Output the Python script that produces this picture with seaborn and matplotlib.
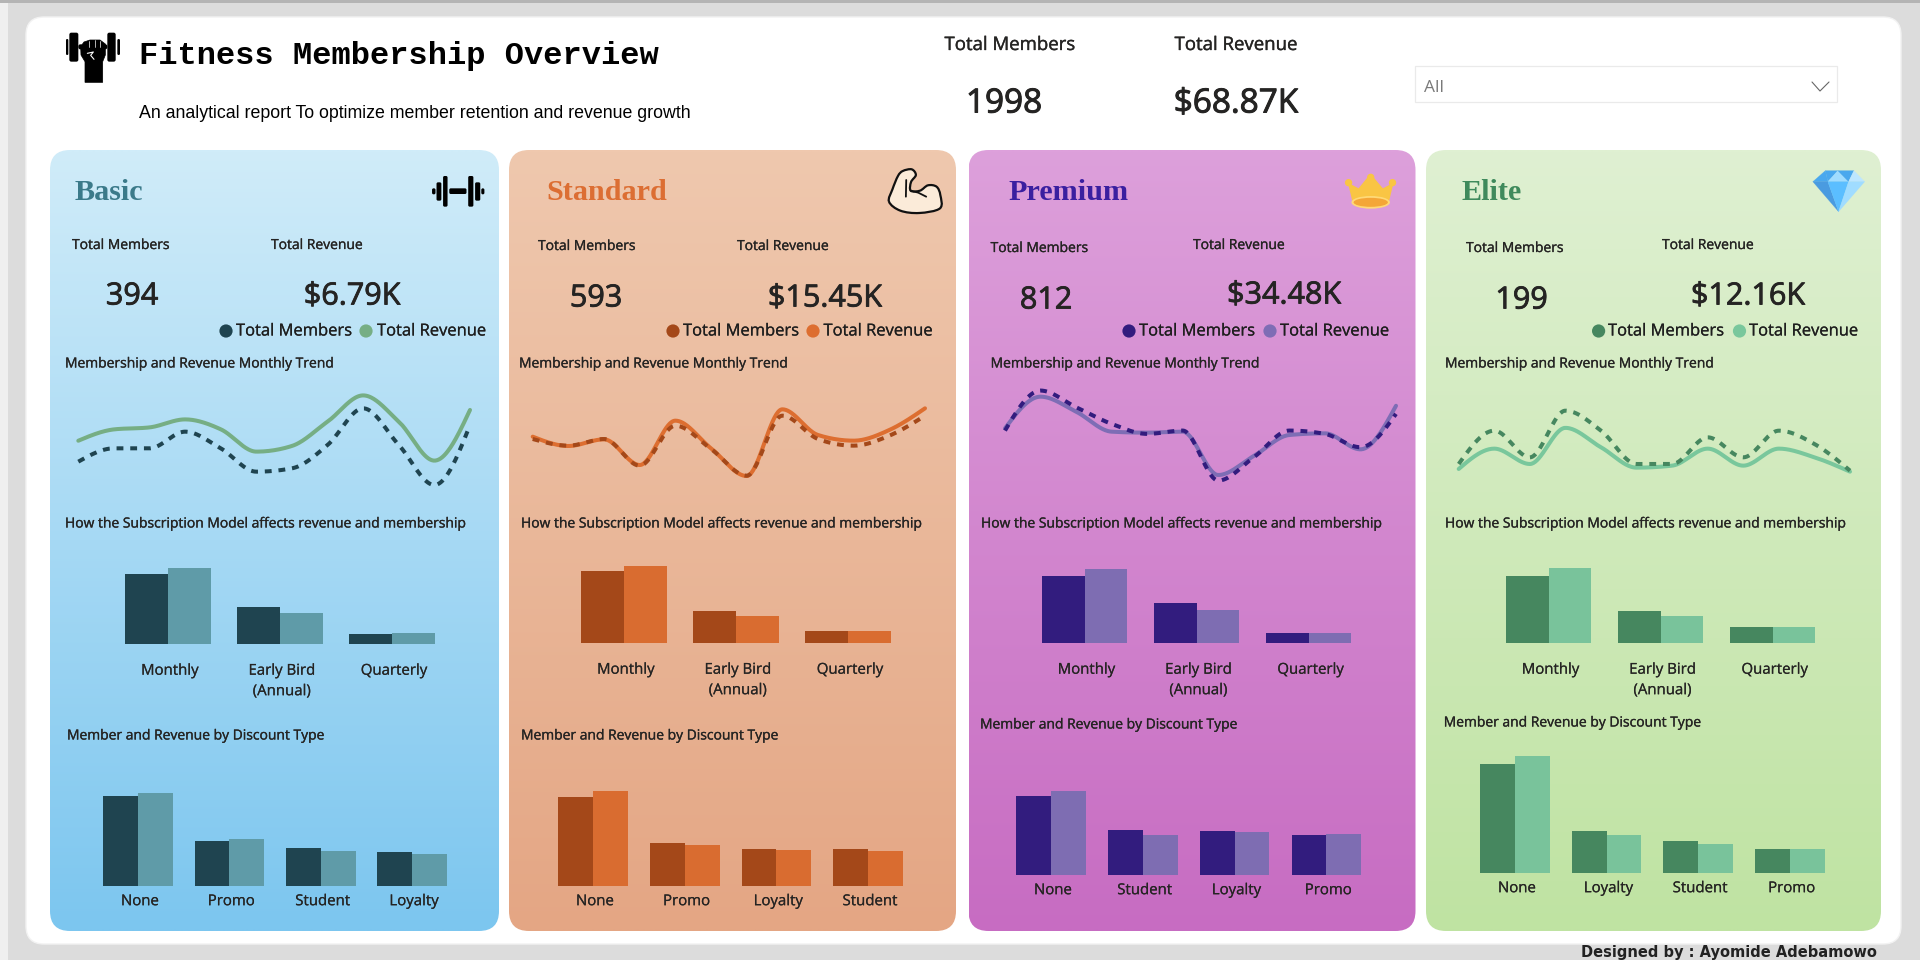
import numpy as np
import pandas as pd
import matplotlib
matplotlib.use("Agg")
import matplotlib.pyplot as plt
import matplotlib.patheffects as pe
from matplotlib.patches import FancyBboxPatch, Polygon, Rectangle, Circle, Ellipse, PathPatch
from matplotlib.path import Path
from matplotlib.transforms import ScaledTranslation
import seaborn as sns

# ---- values ------------------------------------------------------------
plan_names = ["Basic", "Standard", "Premium", "Elite"]
plan_members = ["394", "593", "812", "199"]
plan_revenue = ["$6.79K", "$15.45K", "$34.48K", "$12.16K"]
overall_members = "1998"
overall_revenue = "$68.87K"

months = list(range(12))
basic_trend_members = [29, 33, 33, 38, 33, 26, 27, 34, 45, 34, 22, 40]
basic_trend_revenue = [464, 566, 584, 656, 567, 366, 417, 636, 872, 636, 285, 741]
standard_trend_members = [50, 48, 50, 42, 54, 47, 39, 57, 50, 48, 51, 57]
standard_trend_revenue = [1299, 1215, 1275, 1044, 1443, 1194, 945, 1545, 1314, 1263, 1359, 1554]
premium_trend_members = [68, 80, 75, 70, 67, 68, 53, 60, 68, 67, 63, 73]
premium_trend_revenue = [2944, 3514, 3244, 2884, 2866, 2884, 2104, 2446, 2824, 2854, 2566, 3350]
elite_trend_members = [14, 19, 15, 22, 19, 14, 14, 18, 15, 19, 17, 13]
elite_trend_revenue = [904, 1087, 949, 1274, 1099, 916, 934, 1087, 934, 1087, 1009, 880]

subscription_types = ["Monthly", "Early Bird\n(Annual)", "Quarterly"]
basic_sub_members = [235, 125, 34]
basic_sub_revenue = [4404, 1785, 601]
standard_sub_members = [366, 165, 62]
standard_sub_revenue = [10315, 3572, 1563]
premium_sub_members = [468, 278, 66]
premium_sub_revenue = [21960, 9738, 2782]
elite_sub_members = [116, 55, 28]
elite_sub_revenue = [7792, 2760, 1608]

basic_discounts = ["None", "Promo", "Student", "Loyalty"]
basic_disc_members = [172, 85, 72, 65]
basic_disc_revenue = [3069, 1535, 1137, 1049]
standard_discounts = ["None", "Promo", "Loyalty", "Student"]
standard_disc_members = [256, 123, 107, 107]
standard_disc_revenue = [7121, 3045, 2692, 2592]
premium_discounts = ["None", "Student", "Loyalty", "Promo"]
premium_disc_members = [308, 176, 172, 156]
premium_disc_revenue = [13959, 6618, 7118, 6785]
elite_discounts = ["None", "Loyalty", "Student", "Promo"]
elite_disc_members = [105, 40, 31, 23]
elite_disc_revenue = [6865, 2197, 1706, 1392]

MEMBERS = "Total Members"
REVENUE = "Total Revenue"

# ---- layout and styling, in pixels on a 1920x960 canvas ----------------
panels = [
    dict(box=(50, 150, 499, 931), grad=("#D0ECF9", "#7CC6EF"), head="#3B7A8A",
         c_members="#1F4450", c_rev_bar="#5F9BA8", c_rev_line="#76AE84",
         head_x=75, tm=(72, 245), tr=(271, 245), vm=(132, 294), vr=(352, 294),
         leg=(226, 236, 366, 377), trend_title=65, sub_title=65, disc_title=(67, 735),
         trend_span=(78.3, 470), trend_m_lim=(17.5, 56.5), trend_r_lim=(-69.4, 1100.6),
         sub=(168, 112, 643.7, 69.3, 75.7), disc=(138, 91.4, 885.7, 89.7, 92.7),
         sub_pad=20, disc_pad=8.5),
    dict(box=(509, 150, 956, 931), grad=("#EFC8AE", "#E4A684"), head="#DC6E33",
         c_members="#A44819", c_rev_bar="#D96C30", c_rev_line="#DD6E30",
         head_x=546, tm=(538, 246), tr=(737, 246), vm=(596, 296), vr=(825, 296),
         leg=(673, 683, 813, 823.5), trend_title=519, sub_title=521, disc_title=(521, 735),
         trend_span=(532.7, 925), trend_m_lim=(31.7, 70.7), trend_r_lim=(729, 1899),
         sub=(624, 112, 642.7, 71.3, 77), disc=(593, 91.7, 885.7, 88.3, 94.3),
         sub_pad=20, disc_pad=8.5),
    dict(box=(968.5, 150, 1415.5, 931), grad=("#DDA0DB", "#C76CC2"), head="#3A1FA0",
         c_members="#321C7E", c_rev_bar="#7E6DB2", c_rev_line="#7E6DB5",
         head_x=1008, tm=(990.6, 248), tr=(1193, 245), vm=(1046, 298), vr=(1284, 293),
         leg=(1129, 1139, 1270, 1280), trend_title=990.6, sub_title=981, disc_title=(980, 724),
         trend_span=(1005, 1396), trend_m_lim=(47.17, 86.17), trend_r_lim=(1654, 3994),
         sub=(1084.6, 112, 642.7, 66.7, 73.7), disc=(1051, 91.8, 874.7, 78.3, 83.7),
         sub_pad=20, disc_pad=8.5),
    dict(box=(1426, 150, 1881, 931), grad=("#DFF0D2", "#BFE3A2"), head="#3F8A5C",
         c_members="#46875F", c_rev_bar="#79C39B", c_rev_line="#79C79C",
         head_x=1461, tm=(1466, 248), tr=(1662, 245), vm=(1521.5, 298), vr=(1748, 294),
         leg=(1598.6, 1608, 1739.5, 1749), trend_title=1445, sub_title=1445, disc_title=(1443.7, 722),
         trend_span=(1458.7, 1850), trend_m_lim=(8.6, 28.1), trend_r_lim=(624.8, 1794.8),
         sub=(1548.7, 112, 642.7, 67, 74.3), disc=(1515, 91.6, 872.7, 108.7, 116.7),
         sub_pad=20, disc_pad=8.5),
]

trend_members = [basic_trend_members, standard_trend_members, premium_trend_members, elite_trend_members]
trend_revenue = [basic_trend_revenue, standard_trend_revenue, premium_trend_revenue, elite_trend_revenue]
sub_members = [basic_sub_members, standard_sub_members, premium_sub_members, elite_sub_members]
sub_revenue = [basic_sub_revenue, standard_sub_revenue, premium_sub_revenue, elite_sub_revenue]
disc_names = [basic_discounts, standard_discounts, premium_discounts, elite_discounts]
disc_members = [basic_disc_members, standard_disc_members, premium_disc_members, elite_disc_members]
disc_revenue = [basic_disc_revenue, standard_disc_revenue, premium_disc_revenue, elite_disc_revenue]

W, H = 1920, 960
BODY = "Open Sans"
INK = "#252423"

sns.set_theme(style="white")
plt.rcParams["font.family"] = [BODY, "DejaVu Sans"]

fig = plt.figure(figsize=(W / 100, H / 100), dpi=100, facecolor="#DCDCDC")
base = fig.add_axes([0, 0, 1, 1], zorder=0)
base.set_axis_off()


def px_axes(x0, y0, x1, y1, zorder=3):
    """Axes covering a pixel rectangle given with y measured from the top."""
    ax = fig.add_axes([x0 / W, 1 - y1 / H, (x1 - x0) / W, (y1 - y0) / H], zorder=zorder)
    ax.patch.set_alpha(0)
    return ax


def label(x, y, s, size, color=INK, ha="left", va="center", heavy=0.0, **kw):
    t = base.text(x, y, s, fontsize=size, color=color, ha=ha, va=va, **kw)
    if heavy:
        t.set_path_effects([pe.withStroke(linewidth=heavy, foreground=color)])
    return t


def monotone_curve(values, per_step=40):
    """Monotone cubic through the monthly values, as a smoothed line is drawn."""
    y = np.asarray(values, float)
    d = np.diff(y)
    m = np.zeros_like(y)
    for i in range(1, len(y) - 1):
        p = (d[i - 1] + d[i]) / 2
        m[i] = (np.sign(d[i - 1]) + np.sign(d[i])) * min(abs(d[i - 1]), abs(d[i]), 0.5 * abs(p))
    m[0] = (3 * d[0] - m[1]) / 2
    m[-1] = (3 * d[-1] - m[-2]) / 2
    t = np.linspace(0, len(y) - 1, (len(y) - 1) * per_step + 1)
    i = np.minimum(t.astype(int), len(y) - 2)
    u = t - i
    curve = ((2 * u**3 - 3 * u**2 + 1) * y[i] + (u**3 - 2 * u**2 + u) * m[i]
             + (-2 * u**3 + 3 * u**2) * y[i + 1] + (u**3 - u**2) * m[i + 1])
    return t, curve


def draw_trend(p, members, revenue):
    x0, x1 = p["trend_span"]
    ax = px_axes(x0, 370, x1, 500)
    t, c = monotone_curve(revenue)
    sns.lineplot(x=t, y=c, ax=ax, color=p["c_rev_line"], linewidth=2.9,
                 estimator=None, sort=False, solid_capstyle="round", clip_on=False)
    ax.set_ylim(*p["trend_r_lim"])
    ax.set_xlim(0, 11)
    ax.set_axis_off()
    tw = ax.twinx()
    tw.patch.set_alpha(0)
    t, c = monotone_curve(members)
    sns.lineplot(x=t, y=c, ax=tw, color=p["c_members"], linewidth=2.9, clip_on=False,
                 estimator=None, sort=False, linestyle=(0, (1.7, 1.7)), dash_capstyle="butt")
    tw.set_ylim(*p["trend_m_lim"])
    tw.set_xlim(0, 11)
    tw.set_axis_off()


def draw_bars(p, cats, members, revenue, geom, pad):
    first, step, baseline, peak_m, peak_r = geom
    n = len(cats)
    height = 125.0
    ax = px_axes(first - step / 2, baseline - height, first - step / 2 + step * n, baseline)
    palette = {MEMBERS: p["c_members"], REVENUE: p["c_rev_bar"]}
    hues = [MEMBERS, REVENUE]
    df_m = pd.DataFrame({"type": cats, "value": members, "measure": MEMBERS})
    df_r = pd.DataFrame({"type": cats, "value": revenue, "measure": REVENUE})
    sns.barplot(data=df_m, x="type", y="value", hue="measure", hue_order=hues, order=cats, dodge=True,
                palette=palette, width=0.76, saturation=1, linewidth=0, legend=False, ax=ax)
    tw = ax.twinx()
    tw.patch.set_alpha(0)
    sns.barplot(data=df_r, x="type", y="value", hue="measure", hue_order=hues, order=cats, dodge=True,
                palette=palette, width=0.76, saturation=1, linewidth=0, legend=False, ax=tw)
    ax.set_ylim(0, max(members) * height / peak_m)
    tw.set_ylim(0, max(revenue) * height / peak_r)
    ax.set_xlim(-0.5, n - 0.5)
    tw.set_axis_off()
    ax.set_xlabel("")
    ax.set_ylabel("")
    ax.set_yticks([])
    sns.despine(ax=ax, left=True, bottom=True)
    ax.tick_params(axis="x", length=0, pad=pad * 72 / 100, labelsize=10.8, labelcolor=INK)
    shift = ScaledTranslation(2 / 100, 0, fig.dpi_scale_trans)
    for tick in ax.get_xticklabels():
        tick.set_transform(tick.get_transform() + shift)
        tick.set_linespacing(1.5)
        tick.set_path_effects([pe.withStroke(linewidth=0.12, foreground=INK)])


def rounded(x0, y0, x1, y1, r, **kw):
    return FancyBboxPatch((x0 + r, y0 + r), x1 - x0 - 2 * r, y1 - y0 - 2 * r,
                          boxstyle=f"round,pad={r},rounding_size={r}", mutation_aspect=1, **kw)


# ---- page background ---------------------------------------------------
base.set_xlim(0, W)
base.set_ylim(H, 0)
base.add_patch(Rectangle((0, 0), 8, H, color="#EFEFEF", lw=0))
base.add_patch(Rectangle((0, 0), W, 3, color="#B4B4B4", lw=0))
base.add_patch(rounded(26, 17, 1901, 944, 18, fc="white", ec="#F2F2F2", lw=1))


# ---- icons, each placed from its own small coordinate frame -------------
def frame(ox, oy, sx=3.0, sy=3.0):
    return lambda pts: [(ox + a / sx, oy + b / sy) for a, b in pts]


def rbar(f, a0, b0, a1, b1, color="black", r=1.5):
    (x0, y0), (x1, y1) = f([(a0, b0), (a1, b1)])
    rr = min(r, (x1 - x0) / 2 - 0.01, (y1 - y0) / 2 - 0.01)
    base.add_patch(rounded(x0, y0, x1, y1, rr, fc=color, ec="none", zorder=2))


def smooth_closed(pts):
    """Closed Catmull-Rom outline through the given points."""
    P = np.asarray(pts, float)
    n = len(P)
    verts, codes = [P[0]], [Path.MOVETO]
    for i in range(n):
        p0, p1, p2, p3 = P[i - 1], P[i], P[(i + 1) % n], P[(i + 2) % n]
        verts += [p1 + (p2 - p0) / 6, p2 - (p3 - p1) / 6, p2]
        codes += [Path.CURVE4] * 3
    return Path(verts, codes)


# fist gripping a dumbbell beside the heading
f = frame(50, 20)
for a0, b0, a1, b1 in [(48, 57, 55, 105), (58, 38, 85, 125), (172, 38, 197, 125), (202, 57, 210, 105),
                       (85, 73, 100, 88), (160, 73, 172, 88)]:
    rbar(f, a0, b0, a1, b1, r=2)
base.add_patch(Polygon(f([(92, 80), (102, 66), (120, 60), (150, 60), (166, 72), (166, 105), (158, 125),
                          (158, 187), (105, 187), (105, 125), (93, 105)]), fc="black", ec="black", lw=0.5, zorder=2))
for a, b0, b1 in [(118, 62, 82), (134, 60, 82), (150, 62, 82)]:
    base.plot(*zip(*f([(a, b0), (a, b1)])), color="white", lw=0.5, zorder=3)
base.plot(*zip(*f([(112, 100), (130, 96), (122, 106), (132, 118)])), color="white", lw=0.8, zorder=3)

# ---- the four plan cards -----------------------------------------------
for i, p in enumerate(panels):
    x0, y0, x1, y1 = p["box"]
    grad = np.linspace(0, 1, 256)[:, None, None]
    c0 = np.array(matplotlib.colors.to_rgb(p["grad"][0]))
    c1 = np.array(matplotlib.colors.to_rgb(p["grad"][1]))
    img = base.imshow(c0 + (c1 - c0) * grad, extent=(x0, x1, y1, y0), aspect="auto", zorder=1, interpolation="bilinear")
    clip = rounded(x0, y0, x1, y1, 20, fc="none", ec="none", transform=base.transData)
    base.add_patch(clip)
    img.set_clip_path(clip)

    label(p["head_x"], 192, plan_names[i], 21.7, color=p["head"],
          family=["Liberation Serif", "DejaVu Serif"], weight="bold")
    label(p["tm"][0], p["tm"][1] + 0.5, MEMBERS, 10, heavy=0.2)
    label(p["tr"][0], p["tr"][1] + 0.5, REVENUE, 10, heavy=0.2)
    label(p["vm"][0], p["vm"][1] + 2.5, plan_members[i], 22, ha="center", heavy=0.6)
    label(p["vr"][0], p["vr"][1] + 2.5, plan_revenue[i], 22, ha="center", heavy=0.6)

    dm, tm, dr, tr = p["leg"]
    base.add_patch(Circle((dm, 331), 6.6, fc=p["c_members"], ec="none", zorder=2))
    base.add_patch(Circle((dr, 331), 6.6, fc=p["c_rev_line"], ec="none", zorder=2))
    label(tm, 331.5, MEMBERS, 11.9, color="#1E1E1E", heavy=0.15)
    label(tr, 331.5, REVENUE, 11.9, color="#1E1E1E", heavy=0.15)

    label(p["trend_title"], 364, "Membership and Revenue Monthly Trend", 10, heavy=0.2)
    label(p["sub_title"], 524, "How the Subscription Model affects revenue and membership", 10, heavy=0.2)
    label(p["disc_title"][0], p["disc_title"][1] + 1, "Member and Revenue by Discount Type", 10, heavy=0.2)

    draw_trend(p, trend_members[i], trend_revenue[i])
    draw_bars(p, subscription_types, sub_members[i], sub_revenue[i], p["sub"], p["sub_pad"])
    draw_bars(p, disc_names[i], disc_members[i], disc_revenue[i], p["disc"], p["disc_pad"])

# dumbbell on the Basic card
f = frame(420, 160, sx=2.904)
for a0, b0, a1, b1 in [(35, 85, 45, 103), (48, 67, 62, 122), (67, 48, 80, 140), (85, 85, 135, 102),
                       (140, 48, 155, 140), (160, 67, 175, 122), (178, 85, 187, 103)]:
    rbar(f, a0, b0, a1, b1, r=1.5)

# flexed arm on the Standard card
arm = f([(1362, 125), (1372, 88), (1388, 48), (1402, 33), (1428, 28), (1440, 45), (1426, 66), (1425, 92),
         (1452, 92), (1475, 76), (1500, 80), (1511, 105), (1510, 145), (1450, 159), (1395, 152)])
base.add_patch(PathPatch(smooth_closed(arm), fc="#FBEBD9", ec="#111111", lw=1.6, zorder=3))
base.plot(*zip(*f([(1412, 60), (1411, 110)])), color="#111111", lw=1.3, zorder=4)
base.plot(*zip(*f([(1425, 92), (1447, 98), (1470, 110)])), color="#111111", lw=1.3, zorder=4)

# crown on the Premium card
f = frame(1320, 160, sx=2.8)
for a, b, r in [(80, 68, 11), (142, 52, 11), (203, 68, 11)]:
    (cx, cy), = f([(a, b)])
    base.add_patch(Circle((cx, cy), r / 3, fc="#F9C544", ec="none", zorder=3))
base.add_patch(Polygon(f([(78, 68), (92, 130), (192, 130), (206, 68), (176, 85), (150, 52), (133, 52), (108, 85)]),
                       fc="#F9C544", ec="none", zorder=3))
(cx, cy), = f([(142, 127)])
base.add_patch(Ellipse((cx, cy), 108 / 2.8, 38 / 3, fc="#FFD976", ec="none", zorder=3))
base.add_patch(Ellipse((cx, cy), 96 / 2.8, 27 / 3, fc="#F4A637", ec="none", zorder=3))

# diamond on the Elite card
for pts, col in [([(1380, 65), (1415, 32), (1422, 65)], "#4AA8EE"),
                 ([(1415, 32), (1450, 32), (1422, 65)], "#4AA8EE"),
                 ([(1422, 65), (1450, 32), (1480, 65)], "#A0DCFF"),
                 ([(1450, 32), (1495, 32), (1480, 65)], "#4AA8EE"),
                 ([(1495, 32), (1525, 65), (1480, 65)], "#BDE6FF"),
                 ([(1380, 65), (1422, 65), (1452, 155)], "#4A9BE0"),
                 ([(1422, 65), (1480, 65), (1452, 155)], "#5BBEFF"),
                 ([(1480, 65), (1525, 65), (1452, 155)], "#A0DCFF")]:
    base.add_patch(Polygon(f(pts), fc=col, ec=col, lw=0.2, zorder=3))

# ---- header ------------------------------------------------------------
label(139, 56, "Fitness Membership Overview", 23, color="black",
      family=["Liberation Mono", "DejaVu Sans Mono"], weight="bold")
label(139, 114, "An analytical report To optimize member retention and revenue growth", 12.8,
      color="black", family=["Liberation Sans", "DejaVu Sans"])
label(1010, 45, MEMBERS, 13.4, ha="center", heavy=0.25)
label(1236, 45, REVENUE, 13.4, ha="center", heavy=0.25)
label(1004, 104, overall_members, 24, ha="center", heavy=0.7)
label(1236, 104, overall_revenue, 24, ha="center", heavy=0.7)

# report filter
base.add_patch(Rectangle((1415, 66), 422, 36, fc="white", ec="#EAEAEA", lw=0.9, zorder=2))
label(1424, 88, "All", 12.5, color="#7A7A7A")
base.plot([1812, 1820, 1829], [82, 91, 82], color="#666666", lw=0.8, zorder=3)

label(1877, 953, "Designed by : Ayomide Adebamowo", 10.5, ha="right", color="#222222",
      family=["DejaVu Sans"], weight="bold")

base.set_xlim(0, W)
base.set_ylim(H, 0)
fig.savefig("out.png", dpi=100, facecolor=fig.get_facecolor())
